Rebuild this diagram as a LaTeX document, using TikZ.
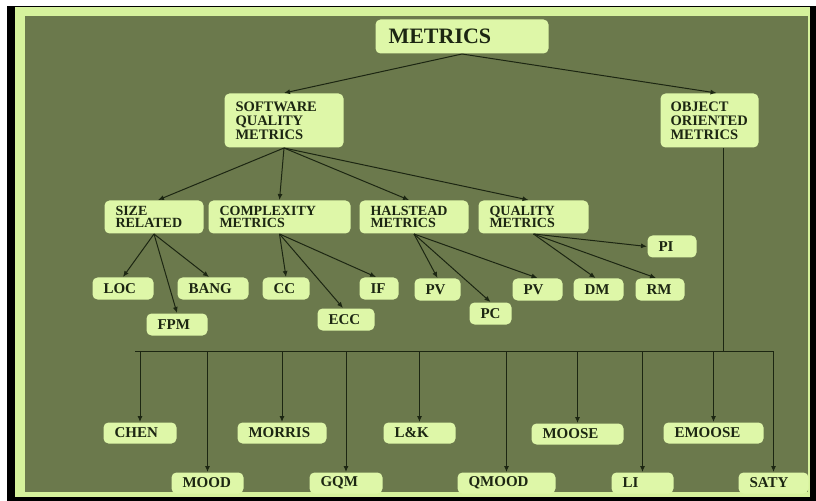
\documentclass[tikz,border=0pt]{standalone}
\usepackage{fontspec}
\setmainfont{Liberation Serif}
\usepackage{tikz}
\usetikzlibrary{arrows.meta}
\definecolor{boardolive}{HTML}{6B794C}
\definecolor{framegreen}{HTML}{D6F29C}
\definecolor{boxgreen}{HTML}{DEF7A8}
\definecolor{inkdark}{HTML}{1C2612}

\tikzset{
  metric/.style={anchor=north west, fill=boxgreen, rounded corners=5bp, align=left,
    inner xsep=11bp, inner ysep=0bp},
  leaf/.style={metric, minimum height=22bp, font=\bfseries\fontsize{15bp}{15bp}\selectfont},
  group/.style={metric, minimum height=33bp, font=\bfseries\fontsize{14bp}{12.5bp}\selectfont},
  branch/.style={metric, minimum height=54bp, font=\bfseries\fontsize{14.5bp}{14bp}\selectfont}
}

\begin{document}
\begin{tikzpicture}[x=1bp,y=-1bp,color=inkdark,line width=1bp,>={Latex[length=6bp,width=5bp]}]
  \useasboundingbox (0,0) rectangle (816,501);
  \fill[white] (0,0) rectangle (816,501);
  \fill[black] (7,6) rectangle (816,501);
  \fill[framegreen] (15,7) rectangle (810,497);
  \fill[boardolive] (25,16) rectangle (808,492);

  % top levels
  \node[metric, minimum height=34bp, inner xsep=13bp, text width=147bp,
        font=\bfseries\fontsize{22bp}{22bp}\selectfont] (metrics) at (375,19) {METRICS};
  \node[branch, text width=97bp] (sqm) at (224,93) {SOFTWARE\\QUALITY\\METRICS};
  \node[branch, inner xsep=10bp, text width=78bp] (oom) at (660,93) {OBJECT\\ORIENTED\\METRICS};

  % software quality groups
  \node[group, text width=77bp]  (size)     at (104,200) {SIZE\\RELATED};
  \node[group, text width=120bp] (complex)  at (208,200) {COMPLEXITY\\METRICS};
  \node[group, text width=87bp]  (halstead) at (359,200) {HALSTEAD\\METRICS};
  \node[group, text width=88bp]  (quality)  at (478,200) {QUALITY\\METRICS};

  \node[leaf, text width=39bp] (loc)  at (92,277)  {LOC};
  \node[leaf, text width=39bp] (fpm)  at (146,313) {FPM};
  \node[leaf, text width=49bp] (bang) at (177,277) {BANG};
  \node[leaf, text width=25bp] (cc)   at (262,277) {CC};
  \node[leaf, text width=35bp] (ecc)  at (317,308) {ECC};
  \node[leaf, text width=17bp] (if)   at (359,277) {IF};
  \node[leaf, text width=24bp] (pva)  at (414,278) {PV};
  \node[leaf, text width=20bp] (pc)   at (469,302) {PC};
  \node[leaf, text width=28bp] (pvb)  at (512,278) {PV};
  \node[leaf, text width=28bp] (dm)   at (573,278) {DM};
  \node[leaf, text width=27bp] (rm)   at (635,278) {RM};
  \node[leaf, text width=27bp] (pi)   at (647,235) {PI};

  % object oriented metrics
  \node[leaf, minimum height=21bp, text width=51bp] (chen)   at (103,422) {CHEN};
  \node[leaf, minimum height=21bp, text width=67bp] (morris) at (237,422) {MORRIS};
  \node[leaf, minimum height=21bp, text width=50bp] (lk)     at (383,422) {L\&K};
  \node[leaf, minimum height=21bp, text width=70bp] (moose)  at (531,423) {MOOSE};
  \node[leaf, minimum height=21bp, text width=78bp] (emoose) at (663,422) {EMOOSE};
  \node[leaf, minimum height=21bp, text width=50bp] (mood)   at (171,472) {MOOD};
  \node[leaf, minimum height=21bp, text width=51bp] (gqm)    at (309,472) {GQM};
  \node[leaf, minimum height=21bp, text width=76bp] (qmood)  at (457,472) {QMOOD};
  \node[leaf, minimum height=21bp, text width=40bp] (li)     at (611,472) {LI};
  \node[leaf, minimum height=21bp, text width=48bp] (saty)   at (738,472) {SATY};

  \coordinate (busleft)  at (135,351);
  \coordinate (busright) at (774,351);
  \coordinate (bus)      at (723,351);

  \path[->] (metrics.south) edge (sqm.north)
                            edge ([xshift=7bp]oom.north)
        (sqm.south) edge ([xshift=4bp]size.north)
                    edge (complex.north)
                    edge ([xshift=-5bp]halstead.north)
                    edge ([xshift=-5bp]quality.north)
        (size.south) edge (loc.north)
                     edge (fpm.north)
                     edge ([xshift=-4bp]bang.north)
        (complex.south) edge (cc.north)
                        edge ([xshift=-3bp]ecc.north)
                        edge ([xshift=-3bp]if.north)
        (halstead.south) edge (pva.north)
                         edge (pc.north)
                         edge (pvb.north)
        (quality.south) edge ([xshift=-3bp]dm.north)
                        edge ([xshift=-4bp]rm.north)
                        edge (pi.west);

  \draw (oom.south -| bus) -- (bus);
  \draw (busleft) -- (busright);
  \path[->] (chen.north |- bus) edge (chen.north)
        (mood.north |- bus) edge (mood.north)
        (morris.north |- bus) edge (morris.north)
        (gqm.north |- bus) edge (gqm.north)
        (lk.north |- bus) edge (lk.north)
        (qmood.north |- bus) edge (qmood.north)
        (moose.north |- bus) edge (moose.north)
        (li.north |- bus) edge (li.north)
        (emoose.north |- bus) edge (emoose.north)
        (saty.north |- bus) edge (saty.north);
\end{tikzpicture}
\end{document}
